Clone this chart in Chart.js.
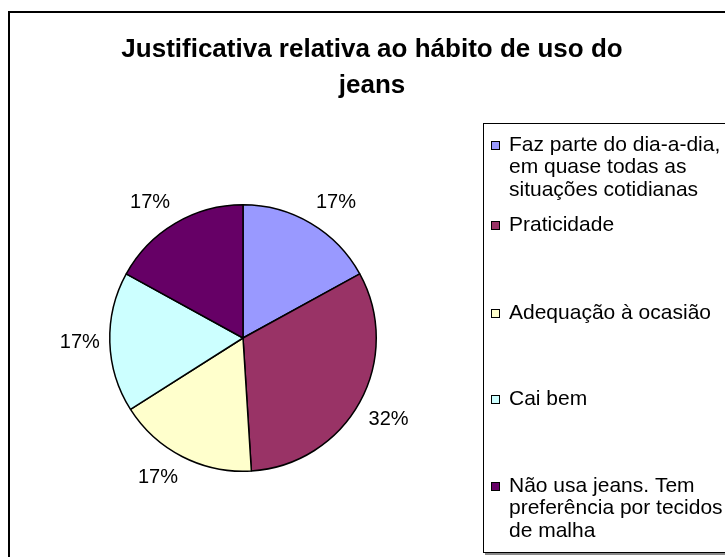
<!DOCTYPE html>
<html>
<head>
<meta charset="utf-8">
<script src="https://cdn.jsdelivr.net/npm/chart.js@4.4.1/dist/chart.umd.min.js"></script>
<style>
  html, body { margin: 0; padding: 0; background: #fff; }
  canvas { display: block; }
</style>
</head>
<body>
<canvas id="pie" width="725" height="557"></canvas>
<script>
const TITLE_LINES = ['Justificativa relativa ao hábito de uso do', 'jeans'];

const categories = [
    ['Faz parte do dia-a-dia,', 'em quase todas as', 'situações cotidianas'],
    ['Praticidade'],
    ['Adequação à ocasião'],
    ['Cai bem'],
    ['Não usa jeans. Tem', 'preferência por tecidos', 'de malha']
];
const percentages = [17, 32, 17, 17, 17];
const sliceColors = ['#9999FF', '#993366', '#FFFFCC', '#CCFFFF', '#660066'];

// legend layout (first-line centre of each entry)
const legendRowY = [145, 225, 313, 399, 486];
const FONT = "'Liberation Sans', Arial, sans-serif";

const excelLook = {
    id: 'excelLook',
    beforeDraw(chart) {
        const ctx = chart.ctx;
        ctx.save();
        ctx.fillStyle = '#fff';
        ctx.fillRect(0, 0, chart.width, chart.height);
        // outer frame
        ctx.strokeStyle = '#000';
        ctx.lineWidth = 2;
        ctx.strokeRect(9, 12, chart.width + 10, chart.height + 10);
        ctx.restore();
    },
    afterDraw(chart) {
        const ctx = chart.ctx;
        ctx.save();

        // title
        ctx.fillStyle = '#000';
        ctx.font = 'bold 26px ' + FONT;
        ctx.textAlign = 'center';
        ctx.textBaseline = 'alphabetic';
        TITLE_LINES.forEach((t, i) => ctx.fillText(t, 372, 57 + i * 36));

        // legend box
        ctx.fillStyle = '#888';
        ctx.fillRect(485, 553, chart.width, 2);
        ctx.strokeStyle = '#000';
        ctx.lineWidth = 1;
        ctx.strokeRect(483.5, 123.5, chart.width, 429);

        ctx.font = '21px ' + FONT;
        ctx.textAlign = 'left';
        ctx.textBaseline = 'middle';
        categories.forEach((lines, i) => {
            const y = legendRowY[i];
            ctx.fillStyle = sliceColors[i];
            ctx.fillRect(491, y - 4, 9, 9);
            ctx.strokeStyle = '#000';
            ctx.strokeRect(491.5, y - 3.5, 8, 8);
            ctx.fillStyle = '#000';
            lines.forEach((l, j) => ctx.fillText(l, 509, y + j * 22.5));
        });

        // percentage labels outside each slice
        ctx.font = '20px ' + FONT;
        const meta = chart.getDatasetMeta(0);
        meta.data.forEach((arc, i) => {
            const p = arc.getProps(['x', 'y', 'startAngle', 'endAngle', 'outerRadius'], true);
            const mid = (p.startAngle + p.endAngle) / 2;
            const r = p.outerRadius + 10;
            const cx = Math.cos(mid), cy = Math.sin(mid);
            const ax = p.x + cx * r, ay = p.y + cy * r;
            ctx.textAlign = cx > 0.15 ? 'left' : (cx < -0.15 ? 'right' : 'center');
            ctx.textBaseline = cy > 0.15 ? 'top' : (cy < -0.15 ? 'bottom' : 'middle');
            ctx.fillStyle = '#000';
            ctx.fillText(percentages[i] + '%', ax, ay + (cy > 0.15 ? 2 : (cy < -0.15 ? -2 : 0)));
        });

        ctx.restore();
    }
};

new Chart(document.getElementById('pie'), {
    type: 'pie',
    data: {
        labels: categories,
        datasets: [{
            data: percentages,
            backgroundColor: sliceColors,
            borderColor: '#000',
            borderWidth: 1.5
        }]
    },
    options: {
        responsive: false,
        animation: false,
        devicePixelRatio: 1,
        layout: { padding: { left: 109, right: 348, top: 204, bottom: 85 } },
        plugins: {
            legend: { display: false },
            title: { display: false },
            tooltip: { enabled: false }
        }
    },
    plugins: [excelLook]
});
</script>
</body>
</html>
